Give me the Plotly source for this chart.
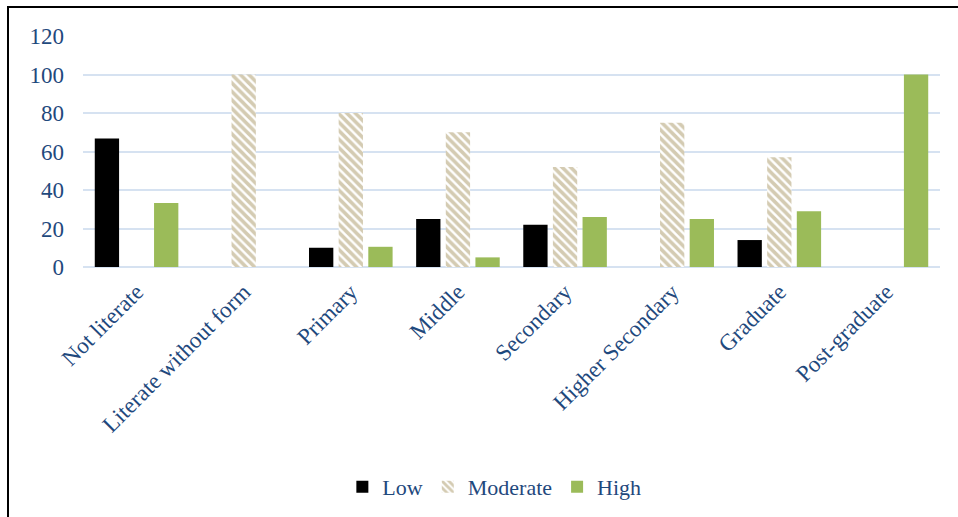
import plotly.graph_objects as go

categories = ["Not literate", "Literate without form", "Primary", "Middle",
              "Secondary", "Higher Secondary", "Graduate", "Post-graduate"]
low = [66.7, 0, 10, 25, 22, 0, 14, 0]
moderate = [0, 100, 80, 70, 52, 75, 57, 0]
high = [33.3, 0, 10.5, 5, 26, 25, 29, 100]
y_ticks = [0, 20, 40, 60, 80, 100, 120]

text_color = "#1F497D"
font_family = "Liberation Serif"

fig = go.Figure()
fig.add_trace(go.Bar(x=categories, y=low, name="Low",
                     marker=dict(color="#000000", line=dict(width=0))))
fig.add_trace(go.Bar(x=categories, y=moderate, name="Moderate",
                     marker=dict(color="#FFFFFF", line=dict(width=0),
                                 pattern=dict(shape="\\", fgcolor="#A99866", bgcolor="#FFFFFF",
                                              size=6, solidity=0.6))))
fig.add_trace(go.Bar(x=categories, y=high, name="High",
                     marker=dict(color="#9BBB59", line=dict(width=0))))

fig.update_layout(
    width=958, height=517,
    margin=dict(l=83, r=18, t=36, b=250, autoexpand=False),
    plot_bgcolor="white", paper_bgcolor="white",
    barmode="group", bargap=0.17, bargroupgap=0.18,
    font=dict(family=font_family, color=text_color, size=20),
    legend=dict(orientation="h", x=0.48, xanchor="center",
                yref="container", y=0.058, yanchor="middle",
                font=dict(family=font_family, size=22, color=text_color),
                itemwidth=30, traceorder="normal"),
    showlegend=True,
)
fig.update_xaxes(tickangle=-45, tickfont=dict(family=font_family, size=23, color=text_color),
                 showline=False, showgrid=False, ticks="", ticklabelstandoff=6,
                 automargin=False)
fig.update_yaxes(range=[0, 120], tickvals=y_ticks,
                 tickfont=dict(family=font_family, size=23, color=text_color),
                 showgrid=True, gridcolor="#D6E2F1", gridwidth=2, zeroline=True,
                 zerolinecolor="#D6E2F1", zerolinewidth=2, ticks="", ticklabelstandoff=18,
                 automargin=False)

fig.add_shape(type="rect", xref="paper", yref="paper",
              x0=(8 - 83) / 857, x1=(990 - 83) / 857,
              y0=-2, y1=1 + 29 / 231,
              line=dict(color="#000000", width=2), fillcolor="rgba(0,0,0,0)", layer="above")

fig.write_html("out.html")
